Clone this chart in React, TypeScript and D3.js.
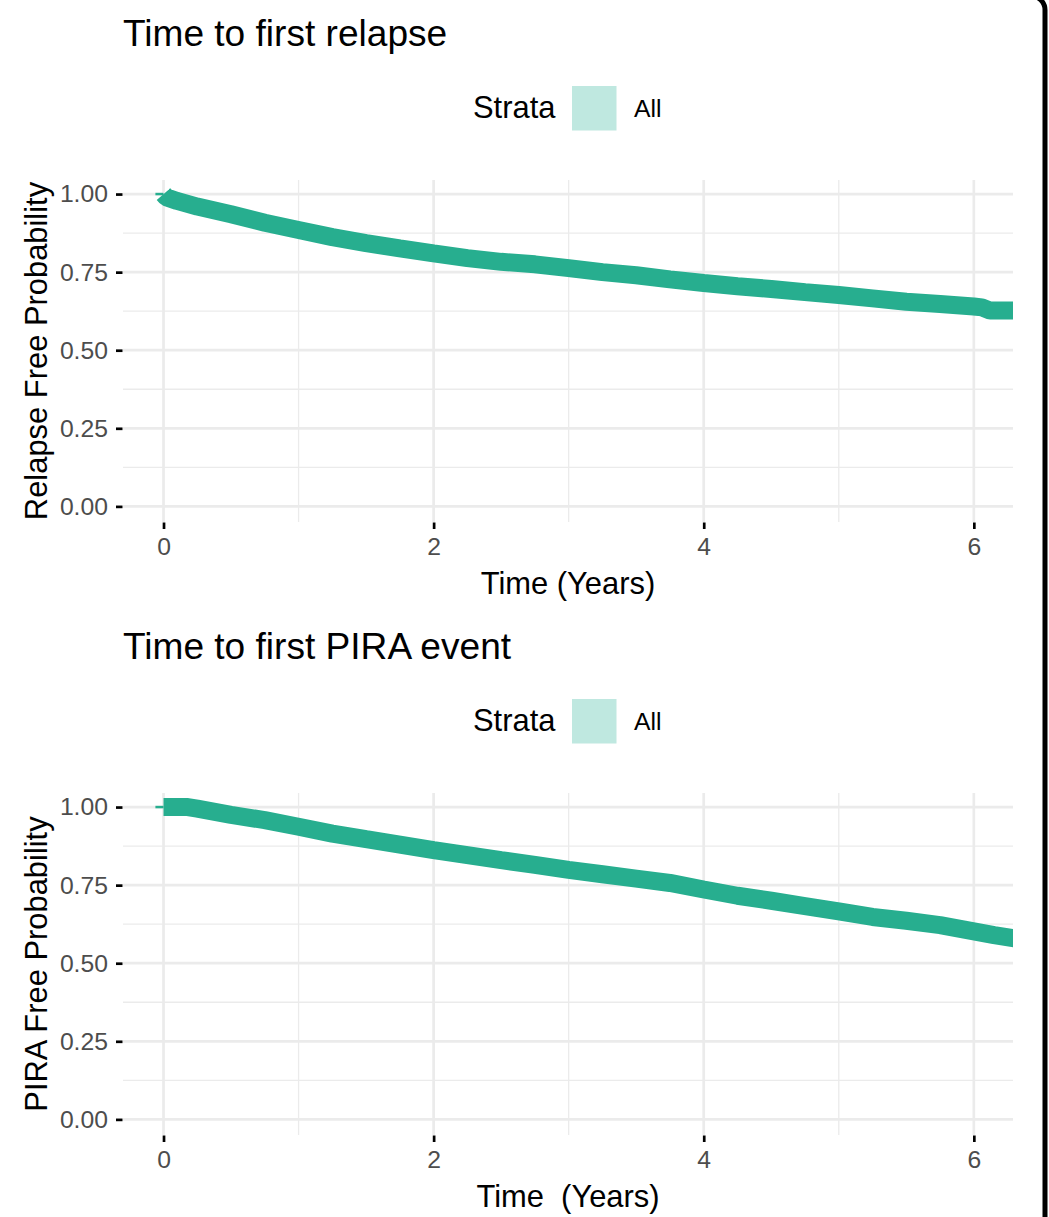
import React, { useEffect, useRef } from "react";
import * as d3 from "d3";

// Kaplan-Meier estimates (years, survival probability)
const relapseTime = [0, 0.02, 0.1, 0.25, 0.5, 0.75, 1.0, 1.25, 1.5, 1.75, 2.0, 2.25, 2.5, 2.75, 3.0, 3.25, 3.5, 3.75, 4.0, 4.25, 4.5, 4.75, 5.0, 5.25, 5.5, 5.75, 6.0, 6.06, 6.12, 6.35];
const relapseSurv = [1.0, 0.99, 0.978, 0.96, 0.935, 0.908, 0.885, 0.862, 0.843, 0.826, 0.81, 0.795, 0.783, 0.775, 0.763, 0.75, 0.74, 0.727, 0.715, 0.705, 0.696, 0.686, 0.677, 0.666, 0.655, 0.648, 0.64, 0.637, 0.627, 0.627];

const piraTime = [0, 0.18, 0.25, 0.5, 0.75, 1.0, 1.25, 1.5, 1.75, 2.0, 2.25, 2.5, 2.75, 3.0, 3.25, 3.5, 3.75, 4.0, 4.25, 4.5, 4.75, 5.0, 5.25, 5.5, 5.75, 6.0, 6.15, 6.35];
const piraSurv = [1.0, 1.0, 0.995, 0.975, 0.958, 0.937, 0.915, 0.897, 0.88, 0.862, 0.846, 0.83, 0.815, 0.799, 0.785, 0.771, 0.757, 0.736, 0.716, 0.7, 0.683, 0.666, 0.648, 0.636, 0.622, 0.602, 0.59, 0.576];

const xTicks = [0, 2, 4, 6];
const xMinor = [1, 3, 5];
const yTicks = [0, 0.25, 0.5, 0.75, 1];
const yMinor = [0.125, 0.375, 0.625, 0.875];
const strata = ["All"];
const leadIn = [-0.06, 0];

const panels = [
  { title: "Time to first relapse", yLabel: "Relapse Free Probability", xLabel: "Time (Years)", time: relapseTime, surv: relapseSurv },
  { title: "Time to first PIRA event", yLabel: "PIRA Free Probability", xLabel: "Time  (Years)", time: piraTime, surv: piraSurv },
];

const width = 1049;
const height = 1217;
const panelStep = 613;
const base = 30.9;
const lineColor = "#27AE8F";
const font = "'Liberation Sans', Arial, Helvetica, sans-serif";

export default function App() {
  const ref = useRef<SVGSVGElement>(null);

  useEffect(() => {
    const svg = d3.select(ref.current);
    svg.selectAll("*").remove();

    const margin = { top: 180, right: 36, bottom: 695, left: 123 };

    const x = d3.scaleLinear().domain([-0.3, 6.29]).range([margin.left, width - margin.right]);
    const y = d3.scaleLinear().domain([-0.05, 1.045]).range([522, margin.top]);

    svg.append("defs")
      .append("clipPath")
      .attr("id", "panel-clip")
      .append("rect")
      .attr("x", x.range()[0])
      .attr("y", y.range()[1] - 20)
      .attr("width", x.range()[1] - x.range()[0])
      .attr("height", y.range()[0] - y.range()[1] + 40);

    panels.forEach((p, i) => {
      const g = svg.append("g").attr("transform", `translate(0,${i * panelStep})`);

      // title
      g.append("text")
        .attr("x", margin.left)
        .attr("y", 46)
        .attr("font-size", base * 1.2)
        .attr("fill", "black")
        .text(p.title);

      // legend
      const leg = g.append("g");
      leg.append("text").attr("x", 473).attr("y", 118).attr("font-size", base).text("Strata");
      leg.selectAll("rect")
        .data(strata)
        .join("rect")
        .attr("x", 572)
        .attr("y", 86)
        .attr("width", 44.5)
        .attr("height", 44.5)
        .attr("fill", "#BFE8E0");
      leg.selectAll("text.lab")
        .data(strata)
        .join("text")
        .attr("class", "lab")
        .attr("x", 634)
        .attr("y", 117)
        .attr("font-size", base * 0.8)
        .text(d => d);

      // grid
      const grid = g.append("g").attr("stroke", "#EBEBEB");
      grid.selectAll("line.hmin").data(yMinor).join("line")
        .attr("x1", x.range()[0]).attr("x2", x.range()[1])
        .attr("y1", d => y(d)).attr("y2", d => y(d))
        .attr("stroke-width", 1.3);
      grid.selectAll("line.vmin").data(xMinor).join("line")
        .attr("y1", y.range()[0]).attr("y2", y.range()[1])
        .attr("x1", d => x(d)).attr("x2", d => x(d))
        .attr("stroke-width", 1.3);
      grid.selectAll("line.hmaj").data(yTicks).join("line")
        .attr("x1", x.range()[0]).attr("x2", x.range()[1])
        .attr("y1", d => y(d)).attr("y2", d => y(d))
        .attr("stroke-width", 2.7);
      grid.selectAll("line.vmaj").data(xTicks).join("line")
        .attr("y1", y.range()[0]).attr("y2", y.range()[1])
        .attr("x1", d => x(d)).attr("x2", d => x(d))
        .attr("stroke-width", 2.7);

      // axes
      const yAxis = g.append("g")
        .attr("transform", `translate(${margin.left - 0.5},0)`)
        .call(d3.axisLeft(y).tickValues(yTicks).tickFormat(d3.format(".2f")).tickSize(6.5).tickPadding(8));
      const xAxis = g.append("g")
        .attr("transform", `translate(0,${y.range()[0] + 0.5})`)
        .call(d3.axisBottom(x).tickValues(xTicks).tickFormat(d3.format("d")).tickSize(6.5).tickPadding(8.5));
      [yAxis, xAxis].forEach(a => {
        a.select(".domain").remove();
        a.attr("font-family", font).attr("font-size", base * 0.8);
        a.selectAll(".tick line").attr("stroke", "black").attr("stroke-width", 2.7);
        a.selectAll(".tick text").attr("fill", "#4D4D4D");
      });

      // axis titles
      g.append("text")
        .attr("transform", `translate(47,${(y.range()[0] + y.range()[1]) / 2}) rotate(-90)`)
        .attr("text-anchor", "middle")
        .attr("font-size", base)
        .text(p.yLabel);
      g.append("text")
        .attr("x", (x.range()[0] + x.range()[1]) / 2)
        .attr("y", 594)
        .attr("text-anchor", "middle")
        .attr("font-size", base)
        .style("white-space", "pre")
        .text(p.xLabel);

      // survival curve
      const pts = p.time.map((t, k) => [t, p.surv[k]] as [number, number]);
      const line = d3.line<[number, number]>()
        .x(d => x(d[0]))
        .y(d => y(d[1]));

      const curves = g.append("g").attr("clip-path", "url(#panel-clip)");

      curves.append("path")
        .datum(leadIn.map(t => [t, 1] as [number, number]))
        .attr("fill", "none")
        .attr("stroke", lineColor)
        .attr("stroke-width", 2.5)
        .attr("d", line);

      curves.append("path")
        .datum(pts)
        .attr("fill", "none")
        .attr("stroke", lineColor)
        .attr("stroke-width", 18)
        .attr("stroke-linejoin", "bevel")
        .attr("stroke-linecap", "butt")
        .attr("d", line);
    });

    // frame of the original screenshot
    svg.append("rect")
      .attr("x", -100)
      .attr("y", -4)
      .attr("width", 1145)
      .attr("height", height + 200)
      .attr("rx", 14)
      .attr("fill", "none")
      .attr("stroke", "black")
      .attr("stroke-width", 5);
  }, []);

  return (
    <svg
      ref={ref}
      width={width}
      height={height}
      style={{ position: "absolute", top: 0, left: 0, background: "white", fontFamily: font }}
    />
  );
}
